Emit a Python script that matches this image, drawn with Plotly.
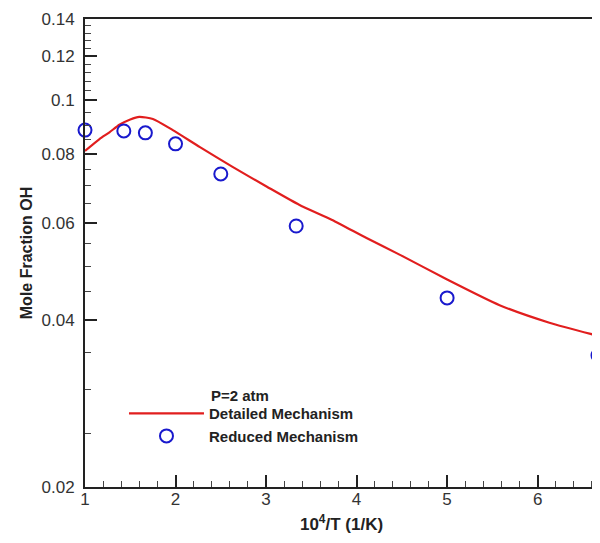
import plotly.graph_objects as go

# Detailed mechanism (curve)
detailed_x = [1.0, 1.16, 1.27, 1.38, 1.50, 1.60, 1.75, 1.97, 2.27, 2.63, 3.01, 3.37, 3.73,
              4.11, 4.48, 4.99, 5.58, 6.13, 6.667]
detailed_y = [0.0809, 0.0850, 0.0874, 0.0902, 0.0922, 0.0932, 0.0924, 0.0882, 0.0822, 0.0757,
              0.0697, 0.0646, 0.0607, 0.0563, 0.0525, 0.0475, 0.0426, 0.0396, 0.0375]

# Reduced mechanism (symbols)
reduced_x = [1.0, 1.429, 1.667, 2.0, 2.5, 3.333, 5.0, 6.667]
reduced_y = [0.0882, 0.0879, 0.0872, 0.0833, 0.0735, 0.0592, 0.0439, 0.0346]

y_ticks = [0.02, 0.04, 0.06, 0.08, 0.1, 0.12, 0.14]
y_tick_text = ["0.02", "0.04", "0.06", "0.08", "0.1", "0.12", "0.14"]
y_minor = [0.025, 0.03, 0.035, 0.045, 0.05, 0.055, 0.065, 0.07, 0.075, 0.085, 0.09, 0.095,
           0.104, 0.108, 0.112, 0.116, 0.124, 0.128, 0.132, 0.136]

font_family = "Liberation Sans, Arial, sans-serif"

fig = go.Figure()
fig.add_scatter(x=detailed_x, y=detailed_y, mode="lines", name="Detailed Mechanism",
                line=dict(color="rgb(225,30,30)", width=2.2, shape="spline", smoothing=0.6))
fig.add_scatter(x=reduced_x, y=reduced_y, mode="markers", name="Reduced Mechanism",
                marker=dict(symbol="circle-open", size=13, color="rgb(25,25,205)",
                            line=dict(width=2, color="rgb(25,25,205)")),
                cliponaxis=False)

fig.add_annotation(text="P=2 atm", xref="paper", yref="paper", x=0.242, y=0.195,
                   xanchor="left", yanchor="middle", showarrow=False,
                   font=dict(family=font_family, size=15, color="#222", weight="bold"))

fig.update_xaxes(range=[1, 6.667], tickvals=[1, 2, 3, 4, 5, 6], ticks="inside",
                 ticklen=12, tickwidth=2, tickcolor="#222",
                 minor=dict(ticks="inside", dtick=0.2, tick0=1, ticklen=6, tickwidth=1,
                            tickcolor="#444"),
                 showline=True, linewidth=2, linecolor="#222", mirror=True,
                 showgrid=False, zeroline=False, automargin=False,
                 ticklabelstandoff=-4,
                 tickfont=dict(family=font_family, size=17, color="#333"),
                 title=dict(text="10<sup>4</sup>/T (1/K)", standoff=10,
                            font=dict(family=font_family, size=17, color="#222",
                                      weight="bold")))
fig.update_yaxes(type="log", range=[-1.69897, -0.853872], tickvals=y_ticks,
                 ticktext=y_tick_text, ticks="inside", ticklen=12, tickwidth=2,
                 tickcolor="#222",
                 minor=dict(ticks="inside", tickvals=y_minor, ticklen=6, tickwidth=1,
                            tickcolor="#444"),
                 showline=True, linewidth=2, linecolor="#222", mirror=True,
                 showgrid=False, zeroline=False, automargin=False,
                 ticklabelstandoff=5,
                 tickfont=dict(family=font_family, size=17, color="#333"),
                 title=dict(text="Mole Fraction OH", standoff=5,
                            font=dict(family=font_family, size=16, color="#222",
                                      weight="bold")))

# the page body adds an 8px margin all round; size the figure so the page does not scroll
fig.update_layout(
    width=592, height=527,
    margin=dict(l=77, r=2, t=11, b=48),
    paper_bgcolor="white", plot_bgcolor="white",
    showlegend=True,
    legend=dict(x=0.076, y=0.192, xanchor="left", yanchor="top", itemwidth=75,
                bgcolor="rgba(0,0,0,0)", tracegroupgap=0,
                font=dict(family=font_family, size=15, color="#222", weight="bold")),
)

fig.write_html("out.html", default_width="592px", default_height="527px")
